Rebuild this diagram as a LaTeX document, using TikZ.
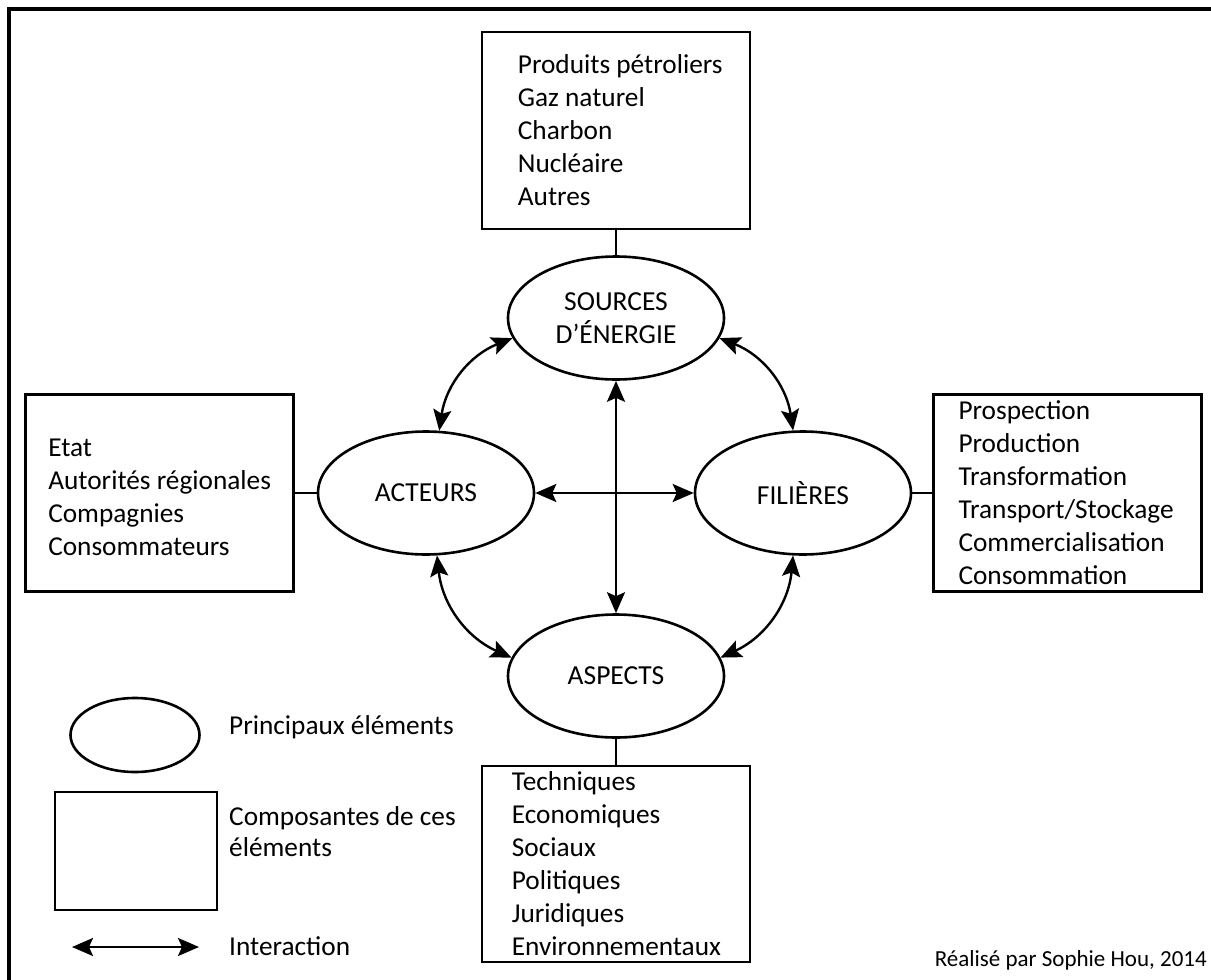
\documentclass[tikz,border=0pt]{standalone}
\usepackage{fontspec}
\setmainfont{Carlito}
\usetikzlibrary{positioning,shapes.geometric,arrows.meta}

\begin{document}
\begin{tikzpicture}[x=1pt,y=-1pt,auto,node distance=24pt,>={Stealth[length=21pt,width=18pt,inset=4pt]}]
	\tikzstyle{elem}=[ellipse,draw,line width=2.6pt,minimum width=216pt,minimum height=123pt,align=center,font=\fontsize{27.5}{33}\selectfont]
	\tikzstyle{comp}=[rectangle,draw,line width=2.6pt,minimum width=268pt,minimum height=197pt]
	\tikzstyle{complist}=[anchor=west,inner sep=0pt,align=left,font=\fontsize{27.3}{33}\selectfont]
	\tikzstyle{inter}=[<->,line width=2.4pt]
	\tikzstyle{link}=[line width=2.4pt]
	\tikzstyle{legtext}=[anchor=west,inner sep=0pt,align=left,font=\fontsize{27.3}{31}\selectfont]
	\useasboundingbox (0,0) rectangle (1211,980);
	% frame
	\draw[line width=3.2pt] (9,1000) -- (9,9) -- (1240,9);
	% main elements
		\node[elem] (src) at (616,318) {SOURCES\\D’ÉNERGIE};
		\node[elem] (act) at (426,493) {ACTEURS};
		\node[elem] (fil) at (803,493) {FILIÈRES};
		\node[elem] (asp) at (616,676) {ASPECTS};
	% components
		\node[comp, above=25pt of src] (srcbox) {};
		\node[complist, xshift=37pt] (srctxt) at (srcbox.west)
			{Produits pétroliers\\Gaz naturel\\Charbon\\Nucléaire\\Autres};
		\node[comp, left=22pt of act] (actbox) {};
		\node[complist, xshift=24pt, yshift=-4pt] (acttxt) at (actbox.west)
			{Etat\\Autorités régionales\\Compagnies\\Consommateurs};
		\node[comp, right=20pt of fil] (filbox) {};
		\node[complist, xshift=26pt] (filtxt) at (filbox.west)
			{Prospection\\Production\\Transformation\\Transport/Stockage\\Commercialisation\\Consommation};
		\node[comp, below=26pt of asp, minimum height=196pt] (aspbox) {};
		\node[complist, xshift=31pt] (asptxt) at (aspbox.west)
			{Techniques\\Economiques\\Sociaux\\Politiques\\Juridiques\\Environnementaux};
			\draw[link] (srcbox) -- (src);
			\draw[link] (actbox) -- (act);
			\draw[link] (filbox) -- (fil);
			\draw[link] (aspbox) -- (asp);
	% interactions
			\draw[inter] (src.191) to[bend right=30] (act.78);
			\draw[inter] (act.280) to[bend right=30] (asp.170);
			\draw[inter] (asp.10) to[bend right=30] (fil.261);
			\draw[inter] (fil.99) to[bend right=30] (src.349);
			\draw[inter] (act.east) -- (fil.west);
			\draw[inter] (src.south) -- (asp.north);
	% legend
		\node[elem, minimum width=129pt, minimum height=74pt] (legelem) at (135,735) {};
		\node[comp, minimum width=162pt, minimum height=118pt] (legcomp) at (136,851) {};
		\coordinate (legA) at (72,947);
		\coordinate (legB) at (199,947);
			\draw[inter] (legA) -- (legB);
		\node[legtext] (legelemtxt) at (229,727) {Principaux éléments};
		\node[legtext] (legcomptxt) at (229,832) {Composantes de ces\\éléments};
		\node[legtext] (leginter) at (229,946) {Interaction};
		\node[anchor=east,inner sep=0pt,font=\fontsize{23}{27}\selectfont] (credit) at (1207,960) {Réalisé par Sophie Hou, 2014};
\end{tikzpicture}
\end{document}
